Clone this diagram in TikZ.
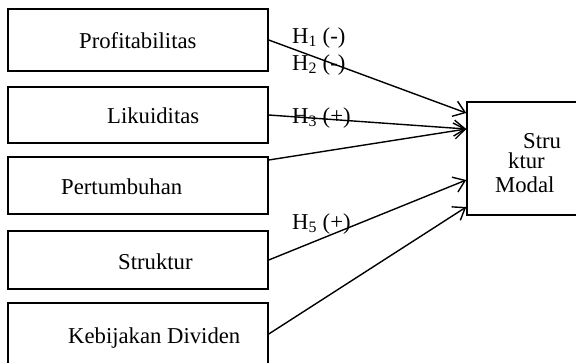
\documentclass[tikz,border=0pt]{standalone}
\usepackage{fontspec}
\setmainfont{Liberation Serif}
\usetikzlibrary{arrows.meta}
\begin{document}
\begin{tikzpicture}[x=1pt,y=-1pt,
  box/.style={draw,line width=1.5pt,rectangle,inner sep=0pt,minimum width=260pt},
  txt/.style={inner sep=0pt,anchor=base west,font=\fontsize{22.7}{26}\selectfont},
  conn/.style={line width=1.4pt,-{Straight Barb[length=11pt,width=16pt,line width=1.4pt]}}]
\useasboundingbox (0,0) rectangle (576,362);
\clip (0,0) rectangle (576,362);
\node[box,minimum height=62pt] (b1) at (138,40) {};
\node[box,minimum height=56pt] (b2) at (138,115) {};
\node[box,minimum height=57pt] (b3) at (138,185.5) {};
\node[box,minimum height=58pt] (b4) at (138,260) {};
\node[box,minimum height=76pt] (b5) at (138,341) {};
\node[draw,line width=1.5pt,rectangle,inner sep=0pt,minimum width=140pt,minimum height=113pt] (m) at (537,158.5) {};
\node[txt] (t1) at (79,48) {Profitabilitas};
\node[txt] (t2) at (107,123) {Likuiditas};
\node[txt] (t3) at (61,194) {Pertumbuhan};
\node[txt] (t4) at (118,269) {Struktur};
\node[txt] (t5) at (68,343) {Kebijakan Dividen};
\node[txt] (m1) at (523,148) {Stru};
\node[txt] (m2) at (508,168) {ktur};
\node[txt] (m3) at (495,192) {Modal};
\draw[conn] (b1.east) -- ([yshift=45.5pt]m.west);
\draw[conn] (b2.east) -- ([yshift=29.5pt]m.west);
\draw[conn] ([yshift=25.5pt]b3.east) -- ([yshift=29.5pt]m.west);
\draw[conn] (b4.east) -- ([yshift=-21.5pt]m.west);
\draw[conn] ([yshift=7pt]b5.east) -- ([yshift=-48.5pt]m.west);
\node[txt] (h1) at (292,43) {H\textsubscript{1} (-)};
\node[txt] (h2) at (292,70) {H\textsubscript{2} (-)};
\node[txt] (h3) at (292,123) {H\textsubscript{3} (+)};
\node[txt] (h5) at (292,229) {H\textsubscript{5} (+)};
\end{tikzpicture}
\end{document}
